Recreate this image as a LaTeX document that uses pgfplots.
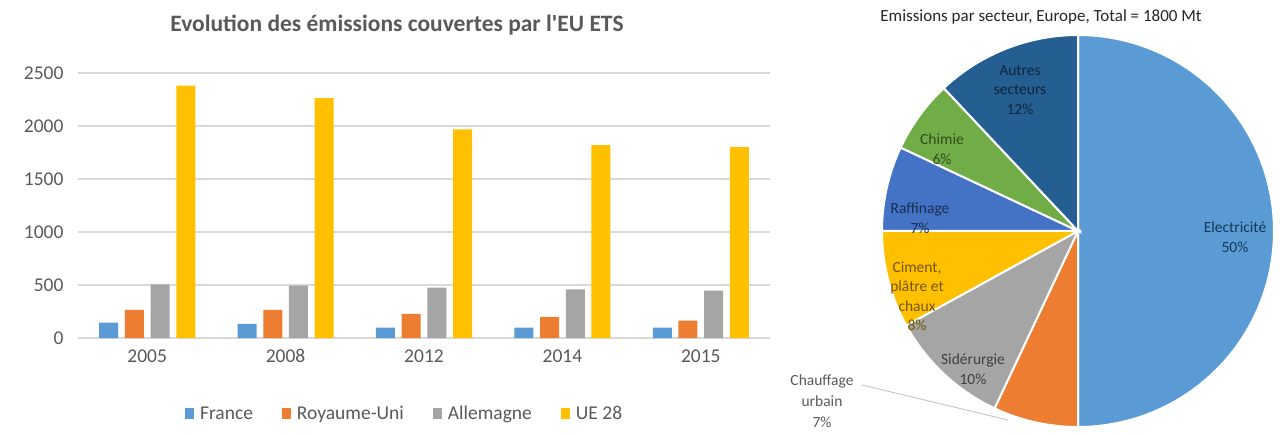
\documentclass[border=0pt]{standalone}
\usepackage{fontspec}
\setmainfont{Carlito}
\usepackage{pgfplots}
\pgfplotsset{compat=1.18}
\definecolor{cFr}{HTML}{5B9BD5}
\definecolor{cUK}{HTML}{ED7D31}
\definecolor{cDE}{HTML}{A5A5A5}
\definecolor{cEU}{HTML}{FFC000}
\definecolor{cRaf}{HTML}{4472C4}
\definecolor{cChi}{HTML}{70AD47}
\definecolor{cAut}{HTML}{255E91}
\definecolor{txtgray}{HTML}{595959}
\definecolor{gridgray}{HTML}{D9D9D9}
\begin{document}
\begin{tikzpicture}[x=1pt,y=1pt]
\path[use as bounding box] (0,0) rectangle (1280,434);
\begin{axis}[
  at={(78pt,96pt)}, anchor=south west, scale only axis,
  width=692pt, height=265pt,
  ybar=6.7pt, bar width=19pt,
  xmin=-0.5, xmax=4.5, ymin=0, ymax=2500,
  xtick=data, xticklabels={2005,2008,2012,2014,2015},
  ytick={0,500,...,2500},
  ymajorgrids, grid style={line width=1.3pt, color=gridgray},
  axis line style={draw=none}, major tick length=0pt,
  tick label style={font=\fontsize{19.5}{22}\selectfont, text=txtgray},
  /pgf/number format/assume math mode=true,
  /pgf/number format/1000 sep={},
  yticklabel style={xshift=-11pt},
  xticklabel style={yshift=-8pt},
  legend style={at={(0.472,-0.285)}, anchor=center, draw=none, fill=none,
    legend columns=-1, font=\fontsize{19.5}{22}\selectfont, text=txtgray,
    /tikz/every even column/.append style={column sep=27pt}},
  legend image code/.code={\fill[#1] (0pt,-5pt) rectangle (9pt,6pt); \path (0pt,0pt) -- (13pt,0pt);},
]
\addplot[fill=cFr, draw=none] coordinates {(0,146) (1,133) (2,98) (3,98) (4,98)};
\addplot[fill=cUK, draw=none] coordinates {(0,266) (1,266) (2,228) (3,199) (4,165)};
\addplot[fill=cDE, draw=none] coordinates {(0,506) (1,494) (2,475) (3,459) (4,446)};
\addplot[fill=cEU, draw=none] coordinates {(0,2380) (1,2263) (2,1968) (3,1820) (4,1801)};
\legend{France, Royaume-Uni, Allemagne, UE 28}
\end{axis}
\node[font=\fontsize{23.5}{26}\selectfont\bfseries, text=txtgray] at (397,409) {Evolution des émissions couvertes par l\textquotesingle EU ETS};
% pie: shares (%) Electricite 50, Chauffage urbain 7, Siderurgie 10, Ciment 8, Raffinage 7, Chimie 6, Autres 12
\begin{axis}[
  at={(882pt,7pt)}, anchor=south west, scale only axis,
  width=392pt, height=392pt,
  xmin=-1, xmax=1, ymin=-1, ymax=1, hide axis, clip=false,
]
\addplot[fill=cFr, draw=white, line width=2pt, domain=-90:90, samples=90] ({cos(x)},{sin(x)}) -- (axis cs:0,0) -- cycle;
\addplot[fill=cUK, draw=white, line width=2pt, domain=-115.2:-90, samples=20] ({cos(x)},{sin(x)}) -- (axis cs:0,0) -- cycle;
\addplot[fill=cDE, draw=white, line width=2pt, domain=-151.2:-115.2, samples=25] ({cos(x)},{sin(x)}) -- (axis cs:0,0) -- cycle;
\addplot[fill=cEU, draw=white, line width=2pt, domain=-180:-151.2, samples=20] ({cos(x)},{sin(x)}) -- (axis cs:0,0) -- cycle;
\addplot[fill=cRaf, draw=white, line width=2pt, domain=-205.2:-180, samples=20] ({cos(x)},{sin(x)}) -- (axis cs:0,0) -- cycle;
\addplot[fill=cChi, draw=white, line width=2pt, domain=-226.8:-205.2, samples=20] ({cos(x)},{sin(x)}) -- (axis cs:0,0) -- cycle;
\addplot[fill=cAut, draw=white, line width=2pt, domain=-270:-226.8, samples=30] ({cos(x)},{sin(x)}) -- (axis cs:0,0) -- cycle;
\end{axis}
\node[font=\fontsize{17}{20}\selectfont, text=black!85] at (1041,417) {Emissions par secteur, Europe, Total = 1800 Mt};
\begin{scope}[every node/.style={align=center, font=\fontsize{15.5}{19.5}\selectfont}]
\node[text=cAut!60!black] at (1235,197) {Electricité\\50\%};
\node[text=cAut!40!black] at (1020,344) {Autres\\secteurs\\12\%};
\node[text=cChi!45!black] at (942,285) {Chimie\\6\%};
\node[text=cRaf!40!black] at (920,216) {Raffinage\\7\%};
\node[text=cEU!45!black] at (917,138) {Ciment,\\plâtre et\\chaux\\8\%};
\node[text=black!75] at (973,65) {Sidérurgie\\10\%};
\node[text=txtgray, font=\fontsize{15.5}{21}\selectfont] at (822,33) {Chauffage\\urbain\\7\%};
\end{scope}
\draw[gray!50, line width=0.8pt] (862,49) -- (1008,14);
\end{tikzpicture}
\end{document}
